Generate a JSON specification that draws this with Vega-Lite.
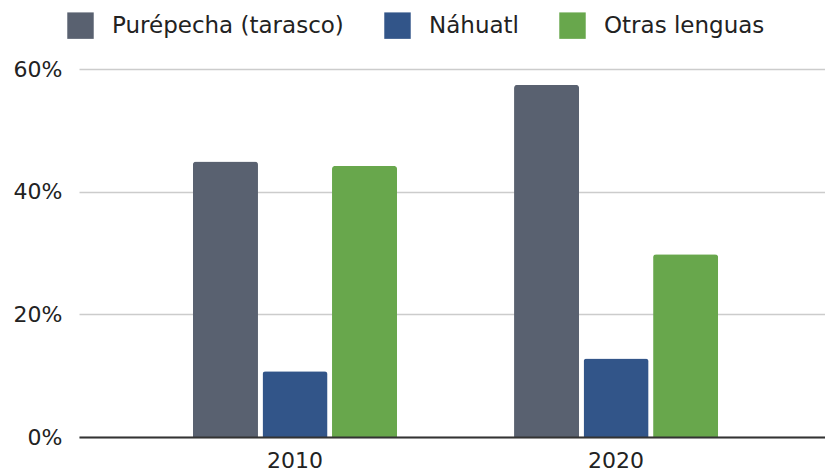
{
  "$schema": "https://vega.github.io/schema/vega-lite/v6.json",
  "width": 746,
  "height": 368,
  "autosize": {"type": "none"},
  "padding": {"left": 79, "top": 69, "right": 0, "bottom": 39},
  "background": "white",
  "data": {
    "values": [
      {"year": "2010", "lengua": "Purépecha (tarasco)", "pct": 0.449},
      {"year": "2010", "lengua": "Náhuatl", "pct": 0.107},
      {"year": "2010", "lengua": "Otras lenguas", "pct": 0.442},
      {"year": "2020", "lengua": "Purépecha (tarasco)", "pct": 0.574},
      {"year": "2020", "lengua": "Náhuatl", "pct": 0.128},
      {"year": "2020", "lengua": "Otras lenguas", "pct": 0.298}
    ]
  },
  "mark": {"type": "bar", "cornerRadiusTopLeft": 3, "cornerRadiusTopRight": 3},
  "encoding": {
    "x": {
      "field": "year",
      "type": "nominal",
      "scale": {"paddingInner": 0.3645, "paddingOuter": 0.344, "align": 0.516},
      "axis": {
        "title": null,
        "labelAngle": 0,
        "ticks": false,
        "domainColor": "#333333",
        "domainWidth": 2,
        "labelFont": "DejaVu Sans",
        "labelFontSize": 22,
        "labelColor": "#222222",
        "labelPadding": 13,
        "zindex": 1
      }
    },
    "xOffset": {
      "field": "lengua",
      "type": "nominal",
      "sort": ["Purépecha (tarasco)", "Náhuatl", "Otras lenguas"],
      "scale": {"paddingInner": 0.065, "paddingOuter": 0}
    },
    "y": {
      "field": "pct",
      "type": "quantitative",
      "scale": {"domain": [0, 0.6], "nice": false},
      "axis": {
        "title": null,
        "values": [0, 0.2, 0.4, 0.6],
        "format": "%",
        "domain": false,
        "ticks": false,
        "gridColor": "#cccccc",
        "gridWidth": 1.5,
        "labelFont": "DejaVu Sans",
        "labelFontSize": 22,
        "labelColor": "#222222",
        "labelPadding": 17
      }
    },
    "color": {
      "field": "lengua",
      "type": "nominal",
      "sort": ["Purépecha (tarasco)", "Náhuatl", "Otras lenguas"],
      "scale": {
        "domain": ["Purépecha (tarasco)", "Náhuatl", "Otras lenguas"],
        "range": ["#596170", "#325589", "#68a74c"]
      },
      "legend": {
        "title": null,
        "orient": "none",
        "direction": "horizontal",
        "legendX": -12,
        "legendY": -57,
        "symbolType": "square",
        "symbolSize": 700,
        "symbolStrokeWidth": 0,
        "labelFont": "DejaVu Sans",
        "labelFontSize": 23,
        "labelColor": "#222222",
        "labelOffset": 18,
        "columnPadding": 40,
        "labelLimit": 400
      }
    }
  },
  "config": {"view": {"stroke": null}}
}
